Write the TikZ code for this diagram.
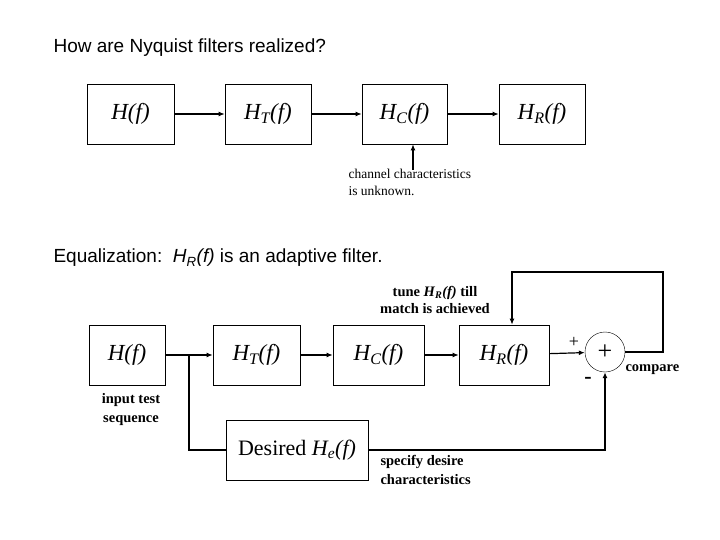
\documentclass[tikz,border=0pt]{standalone}
\usepackage{fontspec}
\setmainfont{Liberation Serif}
\newfontfamily\headfont{Liberation Sans}
\usetikzlibrary{arrows.meta}
\newcommand{\sbs}[1]{\textsubscript{#1}}
\begin{document}
\begin{tikzpicture}[x=1pt,y=-1pt,
  blk/.style={draw, semithick, minimum height=#1, inner sep=0pt, font=\fontsize{23}{24}\selectfont\itshape},
  blk/.default=60pt,
  arr/.style={-{Latex[length=6pt,width=5pt]}, line width=1.2pt},
  lbl/.style={font=\fontsize{14}{17}\selectfont, align=left},
  head/.style={font=\headfont\fontsize{19}{22}\selectfont, anchor=west}]
\useasboundingbox (0,0) rectangle (720,540);
\fill[white] (0,0) rectangle (720,540);
% top heading
\node[head] (t1) at (50,48) {How are Nyquist filters realized?};
% top chain
\node[blk, minimum width=87pt] (a1) at (130.5,114) {H(f)};
\node[blk, minimum width=86pt] (a2) at (268,114) {H\sbs{T}(f)};
\node[blk, minimum width=85pt] (a3) at (404.5,114) {H\sbs{C}(f)};
\node[blk, minimum width=86pt] (a4) at (542,114) {H\sbs{R}(f)};
\draw[arr] (a1) -- (a2);
\draw[arr] (a2) -- (a3);
\draw[arr] (a3) -- (a4);
\coordinate (cu) at (413,170);
\draw[arr] (cu) -- (a3.south -| cu);
\node[lbl, anchor=north west, font=\fontsize{13.5}{17}\selectfont] (cl) at (345,166) {channel characteristics\\is unknown.};
% second heading
\node[head] (t2) at (50,258) {Equalization:\ \ \textit{H\sbs{R}(f)} is an adaptive filter.};
% bottom chain
\node[blk, minimum width=76pt] (b1) at (127,355) {H(f)};
\node[blk, minimum width=87pt] (b2) at (256.5,355) {H\sbs{T}(f)};
\node[blk, minimum width=91pt] (b3) at (378.5,355) {H\sbs{C}(f)};
\node[blk, minimum width=90pt] (b4) at (504,355) {H\sbs{R}(f)};
\node[draw, circle, minimum size=40pt, inner sep=0pt, font=\fontsize{26}{26}\selectfont] (sum) at (605,352) {+};
\node[blk=60pt, minimum width=142pt, font=\fontsize{22}{24}\selectfont] (de) at (297,450) {Desired \textit{H\sbs{e}(f)}};
\coordinate (br) at (189,355);
\draw[arr] (b1) -- (b2);
\draw[arr] (b2) -- (b3);
\draw[arr] (b3) -- (b4);
\draw[arr] (b4) -- (sum);
\draw[line width=1.2pt] (br) |- (de.west);
\draw[arr] (de.east) -| (sum.south);
\coordinate (fb) at (663,272);
\draw[arr] (sum.east) -| (fb) -| ([xshift=8pt]b4.north);
% labels
\node[lbl, align=center, font=\fontsize{14.5}{17}\selectfont\bfseries] (tu) at (435,300) {tune \textit{H\sbs{R}(f)} till\\match is achieved};
\node[lbl, font=\fontsize{14.5}{19}\selectfont\bfseries, align=center] (it) at (131,410) {input test\\sequence};
\node[lbl, anchor=north west, font=\fontsize{14.5}{19}\selectfont\bfseries] (sd) at (377,452) {specify desire\\characteristics};
\node[lbl, font=\fontsize{14.5}{17}\selectfont\bfseries, anchor=west] (cp) at (622,370) {compare};
\node[font=\fontsize{18}{18}\selectfont] (pl) at (574,342) {+};
\node[font=\fontsize{22}{22}\selectfont\bfseries] (mi) at (588,380) {-};
\end{tikzpicture}
\end{document}
